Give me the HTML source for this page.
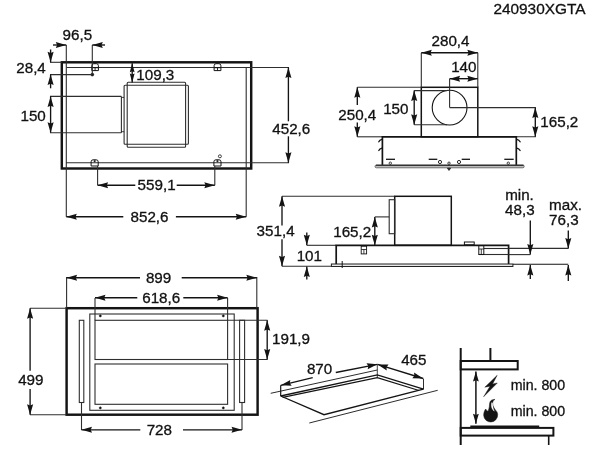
<!DOCTYPE html>
<html><head><meta charset="utf-8"><style>
html,body{margin:0;padding:0;background:#fff;}
svg{display:block;will-change:transform;filter:blur(0.3px);}
text{font-family:"Liberation Sans",sans-serif;fill:#111;stroke:#111;stroke-width:0.3px;}
</style></head><body>
<svg width="600" height="450" viewBox="0 0 600 450">
<rect width="600" height="450" fill="#fff"/>
<text x="585.5" y="14.00" font-size="15.4" text-anchor="end">240930XGTA</text>
<rect x="61.80" y="62.30" width="189.40" height="106.20" stroke="#141414" stroke-width="2.45" fill="none"/>
<line x1="66.30" y1="67.50" x2="289.00" y2="67.50" stroke="#2e2e2e" stroke-width="1.1" stroke-linecap="butt"/>
<line x1="66.30" y1="67.50" x2="66.30" y2="216.70" stroke="#2e2e2e" stroke-width="1.1" stroke-linecap="butt"/>
<line x1="66.00" y1="162.80" x2="289.00" y2="162.80" stroke="#2e2e2e" stroke-width="1.1" stroke-linecap="butt"/>
<line x1="246.20" y1="67.20" x2="246.20" y2="216.70" stroke="#2e2e2e" stroke-width="1.1" stroke-linecap="butt"/>
<rect x="127.2" y="82.3" width="58.4" height="64.9" rx="1" stroke="#2e2e2e" stroke-width="1.1" fill="none"/>
<rect x="124.1" y="85.3" width="64.3" height="59.0" rx="1" stroke="#2e2e2e" stroke-width="1.1" fill="none"/>
<line x1="50.00" y1="96.40" x2="121.40" y2="96.40" stroke="#2e2e2e" stroke-width="1.1" stroke-linecap="butt"/>
<line x1="50.00" y1="132.70" x2="121.40" y2="132.70" stroke="#2e2e2e" stroke-width="1.1" stroke-linecap="butt"/>
<line x1="121.40" y1="96.40" x2="121.40" y2="132.70" stroke="#2e2e2e" stroke-width="1.1" stroke-linecap="butt"/>
<line x1="121.40" y1="97.40" x2="124.10" y2="97.40" stroke="#141414" stroke-width="0.8" stroke-linecap="butt"/>
<line x1="121.40" y1="131.70" x2="124.10" y2="131.70" stroke="#141414" stroke-width="0.8" stroke-linecap="butt"/>
<path d="M 91.8,70.6 L 91.8,65.7 Q 91.8,63.7 93.8,63.7 L 96.4,63.7 Q 98.4,63.7 98.4,65.7 L 98.4,70.6 Z" stroke="#141414" stroke-width="1.0" fill="none"/>
<line x1="91.80" y1="67.70" x2="98.40" y2="67.70" stroke="#141414" stroke-width="1.0" stroke-linecap="butt"/>
<line x1="95.10" y1="67.70" x2="95.10" y2="70.60" stroke="#141414" stroke-width="0.9" stroke-linecap="butt"/>
<path d="M 214.1,70.6 L 214.1,65.7 Q 214.1,63.7 216.1,63.7 L 218.9,63.7 Q 220.9,63.7 220.9,65.7 L 220.9,70.6 Z" stroke="#141414" stroke-width="1.0" fill="none"/>
<line x1="214.10" y1="67.70" x2="220.90" y2="67.70" stroke="#141414" stroke-width="1.0" stroke-linecap="butt"/>
<line x1="217.50" y1="67.70" x2="217.50" y2="70.60" stroke="#141414" stroke-width="0.9" stroke-linecap="butt"/>
<path d="M 91.1,166.0 L 91.1,161.8 Q 91.1,159.8 93.1,159.8 L 96.2,159.8 Q 98.2,159.8 98.2,161.8 L 98.2,166.0 Z" stroke="#141414" stroke-width="1.0" fill="none"/>
<circle cx="94.65" cy="161.10000000000002" r="0.9" stroke="#141414" stroke-width="0.3" fill="#141414"/>
<path d="M 213.9,166.0 L 213.9,161.8 Q 213.9,159.8 215.9,159.8 L 219.0,159.8 Q 221.0,159.8 221.0,161.8 L 221.0,166.0 Z" stroke="#141414" stroke-width="1.0" fill="none"/>
<circle cx="217.45" cy="161.10000000000002" r="0.9" stroke="#141414" stroke-width="0.3" fill="#141414"/>
<circle cx="92.3" cy="74.6" r="1.5" stroke="#141414" stroke-width="0.5" fill="#141414"/>
<circle cx="219.9" cy="156.3" r="1.5" stroke="#141414" stroke-width="0.8" fill="none"/>
<line x1="92.30" y1="45.00" x2="92.30" y2="74.60" stroke="#2e2e2e" stroke-width="1.1" stroke-linecap="butt"/>
<line x1="66.30" y1="45.00" x2="66.30" y2="67.50" stroke="#2e2e2e" stroke-width="1.1" stroke-linecap="butt"/>
<line x1="53.00" y1="45.00" x2="66.30" y2="45.00" stroke="#141414" stroke-width="1.35" stroke-linecap="butt"/>
<polygon points="66.30,45.00 55.80,48.05 57.06,45.00 55.80,41.95" fill="#141414"/>
<line x1="105.00" y1="45.00" x2="92.30" y2="45.00" stroke="#141414" stroke-width="1.35" stroke-linecap="butt"/>
<polygon points="92.30,45.00 102.80,41.95 101.54,45.00 102.80,48.05" fill="#141414"/>
<text x="77.3" y="40.00" font-size="15.2" text-anchor="middle">96,5</text>
<line x1="50.00" y1="62.30" x2="61.80" y2="62.30" stroke="#2e2e2e" stroke-width="1.1" stroke-linecap="butt"/>
<line x1="50.00" y1="74.60" x2="92.30" y2="74.60" stroke="#2e2e2e" stroke-width="1.1" stroke-linecap="butt"/>
<line x1="50.60" y1="49.50" x2="50.60" y2="62.30" stroke="#141414" stroke-width="1.35" stroke-linecap="butt"/>
<polygon points="50.60,62.30 47.55,51.80 50.60,53.06 53.65,51.80" fill="#141414"/>
<line x1="50.60" y1="88.30" x2="50.60" y2="74.60" stroke="#141414" stroke-width="1.35" stroke-linecap="butt"/>
<polygon points="50.60,74.60 53.65,85.10 50.60,83.84 47.55,85.10" fill="#141414"/>
<text x="45.8" y="72.80" font-size="15.2" text-anchor="end">28,4</text>
<line x1="50.60" y1="96.40" x2="50.60" y2="132.70" stroke="#141414" stroke-width="1.35" stroke-linecap="butt"/>
<polygon points="50.60,132.70 47.55,122.20 50.60,123.46 53.65,122.20" fill="#141414"/>
<polygon points="50.60,96.40 53.65,106.90 50.60,105.64 47.55,106.90" fill="#141414"/>
<text x="45.8" y="120.80" font-size="15.2" text-anchor="end">150</text>
<line x1="132.20" y1="63.30" x2="132.20" y2="82.50" stroke="#141414" stroke-width="1.35" stroke-linecap="butt"/>
<polygon points="132.20,82.50 129.80,73.50 132.20,74.58 134.60,73.50" fill="#141414"/>
<polygon points="132.20,63.30 134.60,72.30 132.20,71.22 129.80,72.30" fill="#141414"/>
<text x="136.3" y="80.00" font-size="15.2" text-anchor="start">109,3</text>
<line x1="97.60" y1="166.00" x2="97.60" y2="185.20" stroke="#2e2e2e" stroke-width="1.1" stroke-linecap="butt"/>
<line x1="214.80" y1="166.00" x2="214.80" y2="185.20" stroke="#2e2e2e" stroke-width="1.1" stroke-linecap="butt"/>
<line x1="135.30" y1="185.20" x2="97.60" y2="185.20" stroke="#141414" stroke-width="1.35" stroke-linecap="butt"/>
<polygon points="97.60,185.20 108.10,182.15 106.84,185.20 108.10,188.25" fill="#141414"/>
<line x1="176.70" y1="185.20" x2="214.80" y2="185.20" stroke="#141414" stroke-width="1.35" stroke-linecap="butt"/>
<polygon points="214.80,185.20 204.30,188.25 205.56,185.20 204.30,182.15" fill="#141414"/>
<text x="156.6" y="190.30" font-size="15.2" text-anchor="middle">559,1</text>
<line x1="123.30" y1="216.70" x2="66.30" y2="216.70" stroke="#141414" stroke-width="1.35" stroke-linecap="butt"/>
<polygon points="66.30,216.70 76.80,213.65 75.54,216.70 76.80,219.75" fill="#141414"/>
<line x1="175.90" y1="216.70" x2="246.20" y2="216.70" stroke="#141414" stroke-width="1.35" stroke-linecap="butt"/>
<polygon points="246.20,216.70 235.70,219.75 236.96,216.70 235.70,213.65" fill="#141414"/>
<text x="149.5" y="221.50" font-size="15.2" text-anchor="middle">852,6</text>
<line x1="288.40" y1="121.30" x2="288.40" y2="67.50" stroke="#141414" stroke-width="1.35" stroke-linecap="butt"/>
<polygon points="288.40,67.50 291.45,78.00 288.40,76.74 285.35,78.00" fill="#141414"/>
<line x1="288.40" y1="136.30" x2="288.40" y2="162.80" stroke="#141414" stroke-width="1.35" stroke-linecap="butt"/>
<polygon points="288.40,162.80 285.35,152.30 288.40,153.56 291.45,152.30" fill="#141414"/>
<text x="291.3" y="134.40" font-size="15.2" text-anchor="middle">452,6</text>
<rect x="421.30" y="87.30" width="56.50" height="49.50" stroke="#141414" stroke-width="1.5" fill="none"/>
<circle cx="449.6" cy="107.6" r="17.4" stroke="#141414" stroke-width="1.1" fill="none"/>
<line x1="449.60" y1="87.30" x2="449.60" y2="107.60" stroke="#2e2e2e" stroke-width="1.1" stroke-linecap="butt"/>
<line x1="449.60" y1="107.60" x2="535.80" y2="107.60" stroke="#2e2e2e" stroke-width="1.1" stroke-linecap="butt"/>
<line x1="421.30" y1="52.70" x2="421.30" y2="87.30" stroke="#2e2e2e" stroke-width="1.1" stroke-linecap="butt"/>
<line x1="477.80" y1="52.70" x2="477.80" y2="87.30" stroke="#2e2e2e" stroke-width="1.1" stroke-linecap="butt"/>
<line x1="421.30" y1="52.70" x2="477.80" y2="52.70" stroke="#141414" stroke-width="1.35" stroke-linecap="butt"/>
<polygon points="477.80,52.70 467.30,55.75 468.56,52.70 467.30,49.65" fill="#141414"/>
<polygon points="421.30,52.70 431.80,49.65 430.54,52.70 431.80,55.75" fill="#141414"/>
<text x="450.5" y="45.60" font-size="15.2" text-anchor="middle">280,4</text>
<line x1="449.60" y1="78.70" x2="449.60" y2="87.30" stroke="#2e2e2e" stroke-width="1.1" stroke-linecap="butt"/>
<line x1="449.60" y1="78.70" x2="477.80" y2="78.70" stroke="#141414" stroke-width="1.35" stroke-linecap="butt"/>
<polygon points="477.80,78.70 467.30,81.75 468.56,78.70 467.30,75.65" fill="#141414"/>
<polygon points="449.60,78.70 460.10,75.65 458.84,78.70 460.10,81.75" fill="#141414"/>
<text x="463.8" y="72.00" font-size="15.2" text-anchor="middle">140</text>
<line x1="357.30" y1="87.30" x2="421.30" y2="87.30" stroke="#2e2e2e" stroke-width="1.1" stroke-linecap="butt"/>
<line x1="357.30" y1="136.80" x2="382.40" y2="136.80" stroke="#2e2e2e" stroke-width="1.1" stroke-linecap="butt"/>
<line x1="357.30" y1="105.00" x2="357.30" y2="87.30" stroke="#141414" stroke-width="1.35" stroke-linecap="butt"/>
<polygon points="357.30,87.30 360.35,97.80 357.30,96.54 354.25,97.80" fill="#141414"/>
<line x1="357.30" y1="122.50" x2="357.30" y2="136.80" stroke="#141414" stroke-width="1.35" stroke-linecap="butt"/>
<polygon points="357.30,136.80 354.25,126.30 357.30,127.56 360.35,126.30" fill="#141414"/>
<text x="357.3" y="120.40" font-size="15.2" text-anchor="middle">250,4</text>
<line x1="414.20" y1="90.60" x2="447.00" y2="90.60" stroke="#2e2e2e" stroke-width="1.1" stroke-linecap="butt"/>
<line x1="414.20" y1="124.80" x2="447.00" y2="124.80" stroke="#2e2e2e" stroke-width="1.1" stroke-linecap="butt"/>
<line x1="414.20" y1="90.60" x2="414.20" y2="124.80" stroke="#141414" stroke-width="1.35" stroke-linecap="butt"/>
<polygon points="414.20,124.80 411.15,114.30 414.20,115.56 417.25,114.30" fill="#141414"/>
<polygon points="414.20,90.60 417.25,101.10 414.20,99.84 411.15,101.10" fill="#141414"/>
<text x="395.8" y="114.10" font-size="15.2" text-anchor="middle">150</text>
<line x1="477.80" y1="136.80" x2="535.80" y2="136.80" stroke="#2e2e2e" stroke-width="1.1" stroke-linecap="butt"/>
<line x1="535.30" y1="107.60" x2="535.30" y2="136.80" stroke="#141414" stroke-width="1.35" stroke-linecap="butt"/>
<polygon points="535.30,136.80 532.25,126.30 535.30,127.56 538.35,126.30" fill="#141414"/>
<polygon points="535.30,107.60 538.35,118.10 535.30,116.84 532.25,118.10" fill="#141414"/>
<text x="540.3" y="127.10" font-size="15.2" text-anchor="start">165,2</text>
<polyline points="382.40,165.20 382.40,136.90 516.30,136.90 516.30,165.20" stroke="#141414" stroke-width="1.7" fill="none" stroke-linejoin="miter"/>
<rect x="375.0" y="165.0" width="149.2" height="2.8" rx="1.4" fill="#bdbdbd" stroke="#555" stroke-width="0.8"/>
<line x1="376.00" y1="165.20" x2="523.50" y2="165.20" stroke="#141414" stroke-width="1.1" stroke-linecap="butt"/>
<path d="M 381.9,139.4 Q 379.6,139.8 378.8,141.8" stroke="#141414" stroke-width="1.3" fill="none" stroke-linecap="round"/>
<path d="M 516.8,139.4 Q 519.1,139.8 520.1,141.8" stroke="#141414" stroke-width="1.3" fill="none" stroke-linecap="round"/>
<path d="M 381.9,148.1 Q 379.6,148.5 378.8,150.5" stroke="#141414" stroke-width="1.3" fill="none" stroke-linecap="round"/>
<path d="M 516.8,148.1 Q 519.1,148.5 520.1,150.5" stroke="#141414" stroke-width="1.3" fill="none" stroke-linecap="round"/>
<line x1="386.00" y1="159.30" x2="395.00" y2="159.30" stroke="#141414" stroke-width="1.3" stroke-linecap="butt"/>
<line x1="428.70" y1="159.30" x2="437.30" y2="159.30" stroke="#141414" stroke-width="1.3" stroke-linecap="butt"/>
<line x1="461.70" y1="159.30" x2="470.00" y2="159.30" stroke="#141414" stroke-width="1.3" stroke-linecap="butt"/>
<line x1="504.30" y1="159.30" x2="513.70" y2="159.30" stroke="#141414" stroke-width="1.3" stroke-linecap="butt"/>
<circle cx="390.3" cy="163.2" r="1.2" stroke="#141414" stroke-width="0.8" fill="none"/>
<circle cx="449" cy="163.2" r="1.2" stroke="#141414" stroke-width="0.8" fill="none"/>
<circle cx="508.3" cy="163.2" r="1.2" stroke="#141414" stroke-width="0.8" fill="none"/>
<circle cx="440" cy="162" r="1.6" stroke="#141414" stroke-width="0.9" fill="none"/>
<circle cx="459" cy="162" r="1.6" stroke="#141414" stroke-width="0.9" fill="none"/>
<polygon points="447.30,168.20 450.70,168.20 449.00,170.50" stroke="#141414" stroke-width="0.6" fill="#141414" stroke-linejoin="miter"/>
<rect x="394.70" y="196.30" width="56.60" height="49.00" stroke="#141414" stroke-width="1.5" fill="none"/>
<rect x="389.20" y="199.70" width="5.50" height="34.00" stroke="#2e2e2e" stroke-width="1.1" fill="none"/>
<line x1="282.00" y1="196.20" x2="394.60" y2="196.20" stroke="#2e2e2e" stroke-width="1.1" stroke-linecap="butt"/>
<line x1="282.00" y1="225.40" x2="282.00" y2="196.20" stroke="#141414" stroke-width="1.35" stroke-linecap="butt"/>
<polygon points="282.00,196.20 285.05,206.70 282.00,205.44 278.95,206.70" fill="#141414"/>
<line x1="282.00" y1="239.20" x2="282.00" y2="266.30" stroke="#141414" stroke-width="1.35" stroke-linecap="butt"/>
<polygon points="282.00,266.30 278.95,255.80 282.00,257.06 285.05,255.80" fill="#141414"/>
<text x="275.6" y="236.30" font-size="15.2" text-anchor="middle">351,4</text>
<line x1="282.00" y1="266.30" x2="331.50" y2="266.30" stroke="#2e2e2e" stroke-width="1.1" stroke-linecap="butt"/>
<line x1="374.80" y1="216.90" x2="389.20" y2="216.90" stroke="#2e2e2e" stroke-width="1.1" stroke-linecap="butt"/>
<line x1="374.80" y1="216.90" x2="374.80" y2="245.30" stroke="#141414" stroke-width="1.35" stroke-linecap="butt"/>
<polygon points="374.80,245.30 371.75,234.80 374.80,236.06 377.85,234.80" fill="#141414"/>
<polygon points="374.80,216.90 377.85,227.40 374.80,226.14 371.75,227.40" fill="#141414"/>
<text x="352.2" y="236.80" font-size="15.2" text-anchor="middle">165,2</text>
<line x1="306.80" y1="245.30" x2="336.20" y2="245.30" stroke="#2e2e2e" stroke-width="1.1" stroke-linecap="butt"/>
<line x1="306.80" y1="232.50" x2="306.80" y2="245.30" stroke="#141414" stroke-width="1.35" stroke-linecap="butt"/>
<polygon points="306.80,245.30 303.75,234.80 306.80,236.06 309.85,234.80" fill="#141414"/>
<line x1="306.80" y1="279.50" x2="306.80" y2="266.50" stroke="#141414" stroke-width="1.35" stroke-linecap="butt"/>
<polygon points="306.80,266.50 309.85,277.00 306.80,275.74 303.75,277.00" fill="#141414"/>
<text x="309.3" y="261.40" font-size="15.2" text-anchor="middle">101</text>
<polyline points="336.20,264.00 336.20,245.30 508.60,245.30 508.60,264.00" stroke="#141414" stroke-width="1.7" fill="none" stroke-linejoin="miter"/>
<rect x="331.4" y="264.0" width="181.5" height="2.5" fill="#e8e8e8" stroke="#222" stroke-width="1.0"/>
<rect x="464.40" y="242.00" width="9.80" height="2.80" stroke="#141414" stroke-width="1.0" fill="none"/>
<line x1="483.80" y1="248.50" x2="508.60" y2="248.50" stroke="#2e2e2e" stroke-width="1.1" stroke-linecap="butt"/>
<line x1="478.80" y1="254.50" x2="508.60" y2="254.50" stroke="#2e2e2e" stroke-width="1.1" stroke-linecap="butt"/>
<rect x="478.80" y="245.60" width="5.00" height="8.90" stroke="#141414" stroke-width="1.0" fill="none"/>
<line x1="478.80" y1="249.00" x2="483.80" y2="249.00" stroke="#141414" stroke-width="0.8" stroke-linecap="butt"/>
<line x1="481.30" y1="249.00" x2="481.30" y2="254.50" stroke="#141414" stroke-width="0.8" stroke-linecap="butt"/>
<rect x="361.20" y="246.20" width="5.40" height="7.70" stroke="#141414" stroke-width="0.9" fill="none"/>
<line x1="361.20" y1="249.50" x2="366.60" y2="249.50" stroke="#141414" stroke-width="0.8" stroke-linecap="butt"/>
<line x1="363.90" y1="249.50" x2="363.90" y2="253.90" stroke="#141414" stroke-width="0.8" stroke-linecap="butt"/>
<line x1="342.20" y1="261.00" x2="342.20" y2="268.00" stroke="#141414" stroke-width="1.0" stroke-linecap="butt"/>
<line x1="508.60" y1="248.40" x2="568.30" y2="248.40" stroke="#2e2e2e" stroke-width="1.1" stroke-linecap="butt"/>
<line x1="508.60" y1="254.60" x2="530.30" y2="254.60" stroke="#2e2e2e" stroke-width="1.1" stroke-linecap="butt"/>
<line x1="513.00" y1="264.20" x2="568.30" y2="264.20" stroke="#141414" stroke-width="1.1" stroke-linecap="butt"/>
<line x1="530.30" y1="220.50" x2="530.30" y2="254.60" stroke="#141414" stroke-width="1.35" stroke-linecap="butt"/>
<polygon points="530.30,254.60 527.25,244.10 530.30,245.36 533.35,244.10" fill="#141414"/>
<line x1="530.30" y1="279.00" x2="530.30" y2="265.00" stroke="#141414" stroke-width="1.35" stroke-linecap="butt"/>
<polygon points="530.30,265.00 533.35,275.50 530.30,274.24 527.25,275.50" fill="#141414"/>
<line x1="568.30" y1="230.50" x2="568.30" y2="248.40" stroke="#141414" stroke-width="1.35" stroke-linecap="butt"/>
<polygon points="568.30,248.40 565.25,237.90 568.30,239.16 571.35,237.90" fill="#141414"/>
<line x1="568.30" y1="281.00" x2="568.30" y2="265.00" stroke="#141414" stroke-width="1.35" stroke-linecap="butt"/>
<polygon points="568.30,265.00 571.35,275.50 568.30,274.24 565.25,275.50" fill="#141414"/>
<text x="519.5" y="200.10" font-size="15.2" text-anchor="middle">min.</text>
<text x="519.8" y="215.10" font-size="15.2" text-anchor="middle">48,3</text>
<text x="565.5" y="209.60" font-size="15.2" text-anchor="middle">max.</text>
<text x="563.8" y="224.60" font-size="15.2" text-anchor="middle">76,3</text>
<rect x="66.60" y="308.20" width="191.00" height="106.50" stroke="#141414" stroke-width="2.45" fill="none"/>
<rect x="89.80" y="314.00" width="144.40" height="96.30" stroke="#2e2e2e" stroke-width="1.1" fill="none"/>
<rect x="95.00" y="320.30" width="132.60" height="39.20" stroke="#2e2e2e" stroke-width="1.1" fill="none"/>
<rect x="95.00" y="364.00" width="132.60" height="40.30" stroke="#2e2e2e" stroke-width="1.1" fill="none"/>
<rect x="79.30" y="320.30" width="4.50" height="82.20" stroke="#2e2e2e" stroke-width="1.1" fill="none"/>
<rect x="239.60" y="320.30" width="5.00" height="82.20" stroke="#2e2e2e" stroke-width="1.1" fill="none"/>
<circle cx="100.3" cy="315.9" r="1.1" stroke="#141414" stroke-width="0.4" fill="#141414"/>
<circle cx="223.3" cy="315.9" r="1.1" stroke="#141414" stroke-width="0.4" fill="#141414"/>
<circle cx="100.3" cy="407.9" r="1.1" stroke="#141414" stroke-width="0.4" fill="#141414"/>
<circle cx="223.3" cy="407.9" r="1.1" stroke="#141414" stroke-width="0.4" fill="#141414"/>
<line x1="66.60" y1="277.00" x2="66.60" y2="308.20" stroke="#2e2e2e" stroke-width="1.1" stroke-linecap="butt"/>
<line x1="256.80" y1="277.00" x2="256.80" y2="308.20" stroke="#2e2e2e" stroke-width="1.1" stroke-linecap="butt"/>
<line x1="140.00" y1="277.70" x2="66.60" y2="277.70" stroke="#141414" stroke-width="1.35" stroke-linecap="butt"/>
<polygon points="66.60,277.70 77.10,274.65 75.84,277.70 77.10,280.75" fill="#141414"/>
<line x1="181.70" y1="277.70" x2="256.80" y2="277.70" stroke="#141414" stroke-width="1.35" stroke-linecap="butt"/>
<polygon points="256.80,277.70 246.30,280.75 247.56,277.70 246.30,274.65" fill="#141414"/>
<text x="158.6" y="282.60" font-size="15.2" text-anchor="middle">899</text>
<line x1="95.00" y1="298.00" x2="95.00" y2="320.30" stroke="#2e2e2e" stroke-width="1.1" stroke-linecap="butt"/>
<line x1="227.60" y1="298.00" x2="227.60" y2="320.30" stroke="#2e2e2e" stroke-width="1.1" stroke-linecap="butt"/>
<line x1="137.30" y1="297.70" x2="95.00" y2="297.70" stroke="#141414" stroke-width="1.35" stroke-linecap="butt"/>
<polygon points="95.00,297.70 105.50,294.65 104.24,297.70 105.50,300.75" fill="#141414"/>
<line x1="183.30" y1="297.70" x2="227.60" y2="297.70" stroke="#141414" stroke-width="1.35" stroke-linecap="butt"/>
<polygon points="227.60,297.70 217.10,300.75 218.36,297.70 217.10,294.65" fill="#141414"/>
<text x="161.2" y="302.60" font-size="15.2" text-anchor="middle">618,6</text>
<line x1="30.00" y1="308.20" x2="66.60" y2="308.20" stroke="#2e2e2e" stroke-width="1.1" stroke-linecap="butt"/>
<line x1="30.00" y1="414.70" x2="66.60" y2="414.70" stroke="#2e2e2e" stroke-width="1.1" stroke-linecap="butt"/>
<line x1="30.10" y1="370.70" x2="30.10" y2="308.20" stroke="#141414" stroke-width="1.35" stroke-linecap="butt"/>
<polygon points="30.10,308.20 33.15,318.70 30.10,317.44 27.05,318.70" fill="#141414"/>
<line x1="30.10" y1="389.00" x2="30.10" y2="414.70" stroke="#141414" stroke-width="1.35" stroke-linecap="butt"/>
<polygon points="30.10,414.70 27.05,404.20 30.10,405.46 33.15,404.20" fill="#141414"/>
<text x="30.8" y="385.40" font-size="15.2" text-anchor="middle">499</text>
<line x1="227.60" y1="320.30" x2="267.50" y2="320.30" stroke="#2e2e2e" stroke-width="1.1" stroke-linecap="butt"/>
<line x1="227.60" y1="359.50" x2="267.50" y2="359.50" stroke="#2e2e2e" stroke-width="1.1" stroke-linecap="butt"/>
<line x1="267.20" y1="320.30" x2="267.20" y2="359.50" stroke="#141414" stroke-width="1.35" stroke-linecap="butt"/>
<polygon points="267.20,359.50 264.15,349.00 267.20,350.26 270.25,349.00" fill="#141414"/>
<polygon points="267.20,320.30 270.25,330.80 267.20,329.54 264.15,330.80" fill="#141414"/>
<text x="291" y="344.30" font-size="15.2" text-anchor="middle">191,9</text>
<line x1="81.50" y1="402.50" x2="81.50" y2="430.00" stroke="#2e2e2e" stroke-width="1.1" stroke-linecap="butt"/>
<line x1="242.00" y1="402.50" x2="242.00" y2="430.00" stroke="#2e2e2e" stroke-width="1.1" stroke-linecap="butt"/>
<line x1="140.30" y1="429.80" x2="81.50" y2="429.80" stroke="#141414" stroke-width="1.35" stroke-linecap="butt"/>
<polygon points="81.50,429.80 92.00,426.75 90.74,429.80 92.00,432.85" fill="#141414"/>
<line x1="183.00" y1="429.80" x2="242.00" y2="429.80" stroke="#141414" stroke-width="1.35" stroke-linecap="butt"/>
<polygon points="242.00,429.80 231.50,432.85 232.76,429.80 231.50,426.75" fill="#141414"/>
<text x="159.3" y="434.80" font-size="15.2" text-anchor="middle">728</text>
<line x1="280.70" y1="385.30" x2="280.70" y2="396.00" stroke="#141414" stroke-width="1.2" stroke-linecap="butt"/>
<line x1="377.30" y1="364.30" x2="377.30" y2="377.60" stroke="#2e2e2e" stroke-width="0.9" stroke-linecap="butt"/>
<line x1="423.50" y1="378.70" x2="423.50" y2="389.20" stroke="#2e2e2e" stroke-width="1.0" stroke-linecap="butt"/>
<polyline points="280.70,396.00 377.30,374.80 423.50,389.20" stroke="#141414" stroke-width="1.3" fill="none" stroke-linejoin="miter"/>
<polyline points="282.70,397.30 377.30,377.60 419.00,390.50" stroke="#141414" stroke-width="1.2" fill="none" stroke-linejoin="miter"/>
<polyline points="280.70,396.00 324.00,414.70 423.40,389.20" stroke="#141414" stroke-width="1.3" fill="none" stroke-linejoin="miter"/>
<line x1="270.70" y1="393.30" x2="377.30" y2="370.00" stroke="#141414" stroke-width="0.9" stroke-linecap="butt"/>
<line x1="309.30" y1="423.00" x2="437.70" y2="390.30" stroke="#141414" stroke-width="0.9" stroke-linecap="butt"/>
<line x1="312.70" y1="377.70" x2="280.80" y2="385.30" stroke="#141414" stroke-width="1.35" stroke-linecap="butt"/>
<polygon points="280.80,385.30 290.31,379.90 289.79,383.16 291.72,385.83" fill="#141414"/>
<line x1="335.80" y1="372.50" x2="377.40" y2="364.30" stroke="#141414" stroke-width="1.35" stroke-linecap="butt"/>
<polygon points="377.40,364.30 367.69,369.32 368.33,366.09 366.51,363.34" fill="#141414"/>
<text x="319.6" y="374.20" font-size="15.2" text-anchor="middle">870</text>
<line x1="377.60" y1="364.40" x2="423.20" y2="378.50" stroke="#141414" stroke-width="1.35" stroke-linecap="butt"/>
<polygon points="423.20,378.50 412.27,378.31 414.37,375.77 414.07,372.48" fill="#141414"/>
<polygon points="377.60,364.40 388.53,364.59 386.43,367.13 386.73,370.42" fill="#141414"/>
<text x="413.8" y="365.40" font-size="15.2" text-anchor="middle">465</text>
<line x1="460.70" y1="348.00" x2="460.70" y2="445.00" stroke="#141414" stroke-width="2.0" stroke-linecap="butt"/>
<line x1="490.40" y1="348.00" x2="490.40" y2="361.00" stroke="#141414" stroke-width="2.0" stroke-linecap="butt"/>
<rect x="460.70" y="361.00" width="57.00" height="8.40" stroke="#141414" stroke-width="2.0" fill="none"/>
<line x1="475.90" y1="371.50" x2="475.90" y2="423.80" stroke="#141414" stroke-width="1.5" stroke-linecap="butt"/>
<polygon points="475.90,423.80 473.00,413.80 475.90,415.00 478.80,413.80" fill="#141414"/>
<polygon points="475.90,371.50 478.80,381.50 475.90,380.30 473.00,381.50" fill="#141414"/>
<text x="510.7" y="390.00" font-size="14.2" text-anchor="start">min. 800</text>
<text x="510.7" y="415.70" font-size="14.2" text-anchor="start">min. 800</text>
<rect x="460.70" y="427.90" width="92.70" height="7.70" stroke="#141414" stroke-width="2.0" fill="none"/>
<line x1="470.30" y1="426.30" x2="539.20" y2="426.30" stroke="#141414" stroke-width="1.8" stroke-linecap="butt"/>
<line x1="548.70" y1="435.60" x2="548.70" y2="445.00" stroke="#141414" stroke-width="1.6" stroke-linecap="butt"/>
<polygon points="497.20,375.30 484.80,387.20 490.00,386.20 483.60,396.80 497.30,383.00 492.60,383.90" stroke="#141414" stroke-width="0.4" fill="#141414" stroke-linejoin="miter"/>
<path d="M 495,399.33 C 493.3,400.2 492.4,402 492.67,404 C 492.9,406 494.5,409 496,410.67 C 497.2,411.9 497.67,413.3 497.67,414.67 A 7 7 0 0 1 483.67,415.33 C 483.67,412.8 484.5,410.6 485.67,409 C 486.3,410.2 487,411 488,411.33 C 488.6,409.5 489.2,408.2 489.33,406.67 C 489.5,405 489.5,403.3 490,402 C 490.5,400.8 491.2,400.3 492,400 C 493,399.6 494,399.4 495,399.33 Z" stroke="#141414" stroke-width="0.5" fill="#141414"/>
<path d="M 491.5,402.6 C 491.0,405 491.3,407 492.0,408.5 C 492.6,409.8 493.4,410.7 494.5,411.3 C 493.8,410 493.3,408.7 493.1,407.3 C 492.9,405.8 492.7,404.3 492.6,403.0 Z" stroke="#fff" stroke-width="0.2" fill="#fff"/>
</svg></body></html>
